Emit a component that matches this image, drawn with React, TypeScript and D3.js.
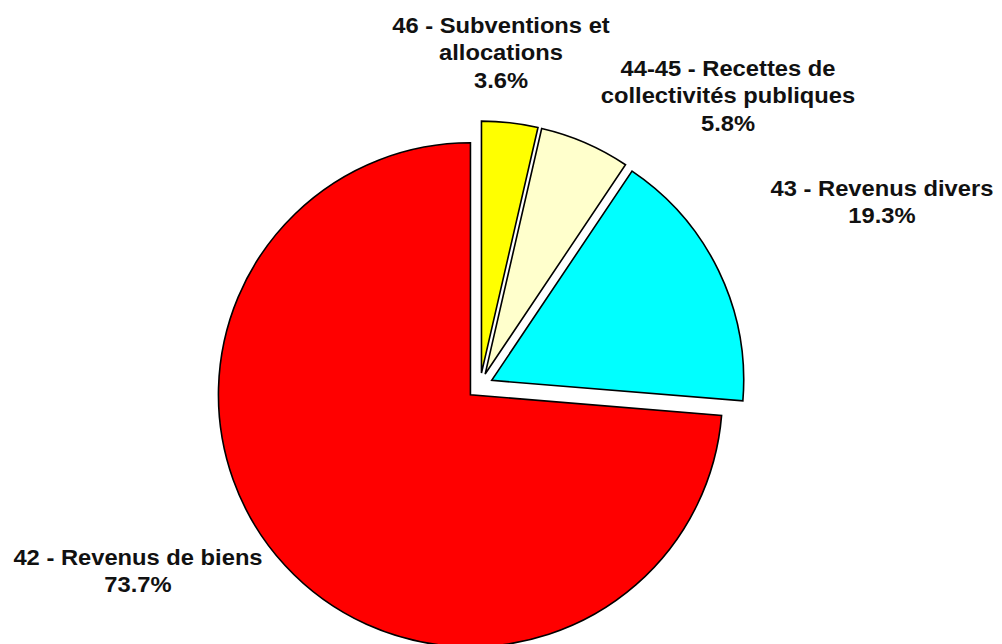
import React from "react";
import * as d3 from "d3";

const categories = ["46", "44-45", "43", "42"];
const sliceValues = [3.6, 5.8, 16.9, 73.7];
const labelLines = [
  ["46 - Subventions et", "allocations"],
  ["44-45 - Recettes de", "collectivités publiques"],
  ["43 - Revenus divers"],
  ["42 - Revenus de biens"],
];
const percentLabels = ["3.6%", "5.8%", "19.3%", "73.7%"];
const colors = ["#FFFF00", "#FFFFCC", "#00FFFF", "#FF0000"];
const labelAnchors: [number, number][] = [
  [501, 33],
  [728, 76],
  [882, 196],
  [138, 565],
];

const W = 1002;
const H = 644;
const CX = 480;
const CY = 386;
const R = 252;
const EXPLODE = 13;
const LINE_H = 27.5;
const STRETCH = 1.055;

export default function App() {
  const pie = d3
    .pie<number>()
    .sort(null)
    .startAngle(0)
    .endAngle(2 * Math.PI)
    .value((d) => d);
  const arcs = pie(sliceValues);
  const arc = d3.arc<d3.PieArcDatum<number>>().innerRadius(0).outerRadius(R);

  return (
    <svg
      width={W}
      height={H}
      style={{ position: "fixed", left: 0, top: 0, background: "#fff" }}
    >
      <g transform={`translate(${CX},${CY})`}>
        {arcs.map((a, i) => {
          const mid = (a.startAngle + a.endAngle) / 2;
          const dx = EXPLODE * Math.sin(mid);
          const dy = -EXPLODE * Math.cos(mid);
          return (
            <path
              key={categories[i]}
              d={arc(a) || ""}
              transform={`translate(${dx},${dy})`}
              fill={colors[i]}
              stroke="#000"
              strokeWidth={1.6}
              strokeLinejoin="miter"
            />
          );
        })}
      </g>
      {labelLines.map((lines, i) => {
        const [x, y] = labelAnchors[i];
        const all = [...lines, percentLabels[i]];
        return (
          <g
            key={categories[i]}
            transform={`translate(${x},0) scale(${STRETCH},1) translate(${-x},0)`}
          >
            <text
              x={x}
              y={y}
              textAnchor="middle"
              fontFamily="'Liberation Sans', Arial, sans-serif"
              fontWeight="bold"
              fontSize={22.5}
              fill="#111"
            >
              {all.map((t, j) => (
                <tspan key={j} x={x} y={y + j * LINE_H}>
                  {t}
                </tspan>
              ))}
            </text>
          </g>
        );
      })}
    </svg>
  );
}
